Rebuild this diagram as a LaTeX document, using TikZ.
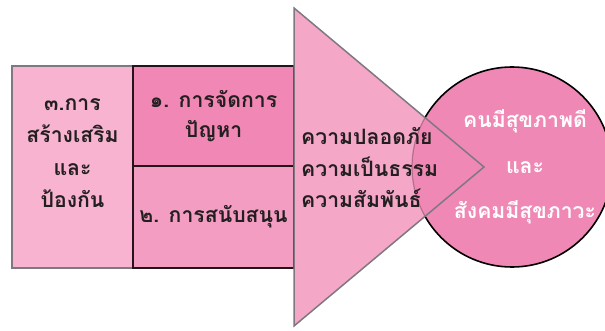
\documentclass[tikz,border=0pt]{standalone}
\usepackage{fontspec}
\newfontfamily\thaifont[Script=Thai]{Loma}
\definecolor{boxLight}{HTML}{F7B3CF}
\definecolor{boxDeep}{HTML}{F087B4}
\definecolor{boxMid}{HTML}{F49DC3}
\definecolor{triFill}{HTML}{F5A7C8}
\definecolor{circFill}{HTML}{F088B5}
\definecolor{edgeGray}{HTML}{7F7880}
\definecolor{edgeDark}{HTML}{241318}
\definecolor{textDark}{HTML}{231F20}
\tikzset{
    BOX/.style={shape=rectangle, inner sep=0pt, align=center,
        text=textDark, font={\thaifont\bfseries\fontsize{21.2}{30}\selectfont}},
    LEFT_BOX/.style={BOX, fill=boxLight, draw=edgeGray, line width=2pt,
        minimum width=121pt, minimum height=202pt},
    PROBLEM_BOX/.style={BOX, fill=boxDeep, draw=edgeDark, line width=2.4pt,
        minimum width=161pt, minimum height=100pt},
    SUPPORT_BOX/.style={BOX, fill=boxMid, draw=edgeDark, line width=2.4pt,
        minimum width=161pt, minimum height=102pt},
    LEFT_TEXT/.style={align=center, inner sep=0pt, text=textDark,
        font={\thaifont\bfseries\fontsize{21.2}{32.5}\selectfont}},
    TRIANGLE/.style={fill=triFill},
    TRIANGLE_EDGE/.style={draw=edgeGray, line width=1.5pt, line join=miter},
    GOAL_CIRCLE/.style={shape=circle, fill=circFill, minimum size=200pt, inner sep=0pt},
    CIRCLE_EDGE/.style={draw=black, line width=1.6pt},
    FAINT_EDGE/.style={draw=black, draw opacity=0.25, line width=1.2pt},
    VALUE_TEXT/.style={align=left, inner sep=0pt, text=textDark,
        font={\thaifont\bfseries\fontsize{21.2}{31.5}\selectfont}},
    GOAL_TEXT/.style={align=center, inner sep=0pt, text=white,
        font={\thaifont\bfseries\fontsize{21.2}{45.5}\selectfont}}
}

\begin{document}
\begin{tikzpicture}[x=1pt, y=-1pt]
    \useasboundingbox (0,0) rectangle (605,331);
    % boxes
    \node [LEFT_BOX] (prevent) at (72.5,167) {};
    \node [LEFT_TEXT] (preventtext) at (72.5,153) {๓.การ\\สร้างเสริม\\และ\\ป้องกัน};
    \node [SUPPORT_BOX] (support) at (213.5,217) {๒. การสนับสนุน};
    \node [PROBLEM_BOX] (problem) at (213.5,116) {๑. การจัดการ\\ปัญหา};
    % triangle
    \coordinate (triTop) at (294,8);
    \coordinate (triBottom) at (294,326);
    \coordinate (triTip) at (484,167);
    \fill [TRIANGLE] (triTop) -- (triTip) -- (triBottom) -- cycle;
    % circle
    \node [GOAL_CIRCLE] (goal) at (512,167) {};
    \begin{scope}
        \clip (triTop) -- (triTip) -- (triBottom) -- cycle;
        \draw [FAINT_EDGE] (goal.center) circle [radius=100];
    \end{scope}
    \begin{scope}
        \clip (triTop) -- (triTip) -- (triBottom) -- (294,340) -- (620,340) -- (620,-10) -- (294,-10) -- cycle;
        \draw [CIRCLE_EDGE] (goal.center) circle [radius=100];
    \end{scope}
    \draw [TRIANGLE_EDGE] (triTop) -- (triTip) -- (triBottom) -- cycle;
    % texts
    \node [VALUE_TEXT, anchor=west] (values) at (301,168) {ความปลอดภัย\\ความเป็นธรรม\\ความสัมพันธ์};
    \node [GOAL_TEXT] (goaltext) at (525,167) {คนมีสุขภาพดี\\และ\\สังคมมีสุขภาวะ};
\end{tikzpicture}
\end{document}
